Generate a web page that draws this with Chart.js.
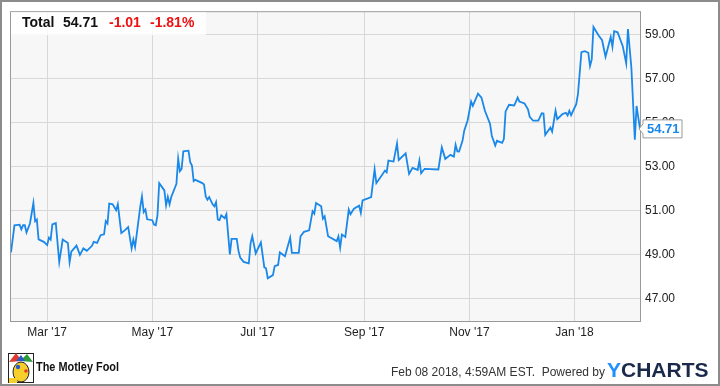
<!DOCTYPE html>
<html>
<head>
<meta charset="utf-8">
<script src="https://cdn.jsdelivr.net/npm/chart.js@4"></script>
<style>
  html, body { margin: 0; padding: 0; background: #fff; }
  #wrap { width: 720px; height: 386px; position: relative; }
</style>
</head>
<body>
<div id="wrap"><canvas id="c" width="720" height="386"></canvas></div>
<script>
// ---- DATA ----
const START_DATE = '2017-02-08';
// days since START_DATE
const dayOffsets = [0,2,5,6,7,8,9,11,13,14,15,16,19,21,22,23,24,26,28,30,33,34,35,38,40,42,44,47,48,50,52,54,55,56,57,59,61,62,64,66,68,70,71,72,75,76,77,78,79,82,83,84,85,86,89,90,91,92,93,96,97,98,99,100,103,104,105,106,107,111,112,113,114,115,117,118,119,120,121,122,124,125,127,128,131,132,133,135,138,139,140,142,145,147,148,149,152,153,155,156,159,162,163,167,168,170,173,175,176,177,180,181,182,184,189,190,191,192,194,196,197,199,202,203,204,209,211,212,215,217,218,219,222,224,225,229,231,233,236,237,238,240,248,250,252,255,257,258,259,260,262,263,265,267,268,271,273,275,278,279,281,282,285,286,287,289,292,293,294,295,298,300,301,303,306,308,309,310,313,314,316,317,320,322,323,324,325,328,329,331,333,335,336,337,338,341,343,345,348,349,350,352,355,357,358,360,362,363,365];
const totalValues = [49.11,50.34,50.37,50.16,50.34,50.34,50.01,50.42,51.35,50.52,50.60,49.70,49.59,49.44,49.78,49.69,50.38,50.44,48.67,49.69,49.54,48.67,49.14,49.42,49.00,49.29,49.18,49.41,49.59,49.54,49.89,49.93,50.53,50.42,51.32,51.29,51.02,51.29,49.99,50.11,50.26,49.29,49.69,49.36,51.17,51.65,50.94,51.05,50.61,50.57,50.37,50.34,50.79,52.25,51.92,51.24,51.62,51.29,51.62,52.22,53.36,52.79,52.90,53.69,53.72,53.20,53.05,52.34,52.40,52.25,52.19,51.65,51.50,51.62,51.29,51.20,51.39,50.60,50.57,50.79,50.66,50.84,49.02,49.72,49.72,49.18,48.88,48.68,48.61,49.51,49.84,49.06,49.56,48.43,48.39,47.94,48.08,48.49,48.54,49.11,48.94,49.78,49.09,49.09,49.84,50.04,50.11,50.98,50.87,51.35,51.20,50.64,50.75,49.84,49.62,49.84,49.33,49.92,49.81,51.05,50.84,51.09,51.23,50.90,51.47,51.62,52.88,52.25,52.59,52.82,52.74,53.27,53.23,54.05,53.30,53.60,52.67,52.94,52.85,53.27,52.70,52.90,52.87,53.87,53.35,53.53,53.45,53.99,53.69,53.68,54.17,54.63,55.10,55.95,55.75,56.31,56.13,55.53,54.93,54.40,53.95,54.17,54.08,54.25,55.50,55.80,55.77,55.95,56.13,55.95,55.86,55.60,55.26,55.08,55.08,55.42,55.41,54.44,54.77,54.59,55.53,55.15,55.38,55.44,55.32,55.53,55.33,55.83,56.28,58.19,58.23,58.16,57.56,57.86,59.33,58.94,58.73,57.98,58.88,58.43,59.14,59.09,58.46,57.68,59.24,57.48,54.22,55.75,54.71];
const xTickDays = [21, 82, 143, 205, 266, 327];
const xTickLabels = ["Mar '17", "May '17", "Jul '17", "Sep '17", "Nov '17", "Jan '18"];
const yTickValues = [47, 49, 51, 53, 55, 57, 59];
const seriesName = 'Total';
const lastValue = 54.71;
const changeValue = -1.01;
const changePct = -1.81;
const footerText = 'Feb 08 2018, 4:59AM EST.  Powered by';

// ---- STYLE ----
const LINE_BLUE = '#1a88e8';
const GRID = '#d8d8d8';
const FONT = '"Liberation Sans", Arial, sans-serif';

const points = dayOffsets.map((d, i) => ({ x: d, y: totalValues[i] }));

const decorPlugin = {
  id: 'decor',
  beforeDraw(chart) {
    const { ctx, chartArea: a } = chart;
    ctx.save();
    ctx.fillStyle = '#fff';
    ctx.fillRect(0, 0, chart.width, chart.height);
    ctx.fillStyle = '#f7f7f7';
    ctx.fillRect(a.left, a.top, a.right - a.left, a.bottom - a.top);
    ctx.restore();
  },
  afterDraw(chart) {
    const { ctx, chartArea: a } = chart;
    ctx.save();
    // plot border
    ctx.strokeStyle = '#999';
    ctx.lineWidth = 1;
    ctx.strokeRect(a.left - 0.5, a.top - 0.5, a.right - a.left + 1, a.bottom - a.top + 1);

    // legend box
    ctx.fillStyle = 'rgba(255,255,255,0.82)';
    ctx.fillRect(a.left, a.top, 195, 23);
    ctx.font = 'bold 14px ' + FONT;
    ctx.textBaseline = 'middle';
    ctx.textAlign = 'left';
    const ly = 23.5;
    ctx.fillStyle = '#111';
    ctx.fillText(seriesName, 22, ly);
    ctx.fillText(lastValue.toFixed(2), 63, ly);
    ctx.fillStyle = '#ee1111';
    ctx.fillText(changeValue.toFixed(2), 109, ly);
    ctx.fillText(changePct.toFixed(2) + '%', 150, ly);

    // last-value callout
    const yPix = chart.scales.y.getPixelForValue(lastValue);
    const tip = a.right - 1, bl = a.right + 3, br = a.right + 42;
    const bt = yPix - 9, bb = yPix + 9;
    ctx.beginPath();
    ctx.moveTo(tip, yPix);
    ctx.lineTo(bl, bt + 4);
    ctx.lineTo(bl, bt);
    ctx.lineTo(br, bt);
    ctx.lineTo(br, bb);
    ctx.lineTo(bl, bb);
    ctx.lineTo(bl, bb - 4);
    ctx.closePath();
    ctx.fillStyle = '#fff';
    ctx.fill();
    ctx.strokeStyle = '#999';
    ctx.lineWidth = 1;
    ctx.stroke();
    ctx.fillStyle = LINE_BLUE;
    ctx.font = 'bold 13px ' + FONT;
    ctx.textAlign = 'left';
    ctx.fillText(lastValue.toFixed(2), bl + 4, yPix + 0.5);

    // footer text
    ctx.fillStyle = '#333';
    ctx.font = '12px ' + FONT;
    ctx.textAlign = 'right';
    ctx.fillText(footerText, 605, 373);
    ctx.font = 'bold 21px ' + FONT;
    ctx.textAlign = 'left';
    ctx.fillStyle = '#1e90ff';
    ctx.fillText('Y', 607, 371);
    const yw = ctx.measureText('Y').width;
    ctx.fillStyle = '#1b2a4a';
    ctx.fillText('CHARTS', 607 + yw, 371);

    // Motley Fool logo (simplified jester)
    ctx.fillStyle = '#fff';
    ctx.fillRect(8, 353, 26, 30);
    ctx.strokeStyle = '#222'; ctx.lineWidth = 1;
    ctx.strokeRect(8.5, 353.5, 25, 29);
    ctx.fillStyle = '#e23b2e';
    ctx.beginPath(); ctx.moveTo(9, 362); ctx.lineTo(16, 353); ctx.lineTo(22, 361); ctx.closePath(); ctx.fill();
    ctx.fillStyle = '#2e9a3a';
    ctx.beginPath(); ctx.moveTo(20, 361); ctx.lineTo(27, 354); ctx.lineTo(33, 362); ctx.closePath(); ctx.fill();
    ctx.fillStyle = '#2a5cc8';
    ctx.beginPath(); ctx.moveTo(16, 361); ctx.lineTo(21, 355); ctx.lineTo(25, 361); ctx.closePath(); ctx.fill();
    ctx.fillStyle = '#f6cf2a';
    ctx.beginPath(); ctx.ellipse(21, 372, 8, 10, 0, 0, Math.PI * 2); ctx.fill();
    ctx.strokeStyle = '#222'; ctx.stroke();
    ctx.fillStyle = '#2a5cc8';
    ctx.beginPath(); ctx.arc(18, 367, 2.2, 0, Math.PI * 2); ctx.fill();
    ctx.fillStyle = '#e23b2e';
    ctx.beginPath(); ctx.arc(26, 371, 1.8, 0, Math.PI * 2); ctx.fill();
    ctx.fillStyle = '#f6cf2a';
    ctx.fillRect(9, 378, 8, 5);

    ctx.save();
    ctx.font = 'bold 13px ' + FONT;
    ctx.fillStyle = '#111';
    ctx.textAlign = 'left';
    const t = 'The Motley Fool';
    const tw = ctx.measureText(t).width;
    ctx.translate(36, 367);
    ctx.scale(83 / tw, 1);
    ctx.fillText(t, 0, 0);
    ctx.restore();

    // outer frame
    ctx.strokeStyle = '#8c8c8c';
    ctx.lineWidth = 2;
    ctx.strokeRect(1, 1, chart.width - 2, chart.height - 2);
    ctx.restore();
  }
};

new Chart(document.getElementById('c'), {
  type: 'line',
  data: {
    datasets: [{
      label: seriesName,
      data: points,
      borderColor: LINE_BLUE,
      borderWidth: 1.8,
      pointRadius: 0,
      tension: 0,
      fill: false
    }]
  },
  options: {
    responsive: false,
    animation: false,
    events: [],
    layout: { padding: { left: 11, top: 10, right: 0, bottom: 0 } },
    plugins: { legend: { display: false }, tooltip: { enabled: false } },
    scales: {
      x: {
        type: 'linear',
        min: 0,
        max: 365,
        afterFit(s) { s.height = 65; },
        afterBuildTicks(s) { s.ticks = xTickDays.map(v => ({ value: v })); },
        grid: { color: GRID, drawTicks: false, lineWidth: 1 },
        border: { display: false },
        ticks: {
          autoSkip: false,
          maxRotation: 0,
          padding: 4,
          color: '#222',
          font: { family: FONT, size: 12 },
          callback: (v) => { const i = xTickDays.indexOf(v); return i >= 0 ? xTickLabels[i] : ''; }
        }
      },
      y: {
        position: 'right',
        min: 46,
        max: 60,
        afterFit(s) { s.width = 80; },
        afterBuildTicks(s) { s.ticks = yTickValues.map(v => ({ value: v })); },
        grid: { color: GRID, drawTicks: false, lineWidth: 1 },
        border: { display: false },
        ticks: {
          padding: 5,
          color: '#222',
          font: { family: FONT, size: 12 },
          callback: (v) => Number(v).toFixed(2)
        }
      }
    }
  },
  plugins: [decorPlugin]
});
</script>
</body>
</html>
